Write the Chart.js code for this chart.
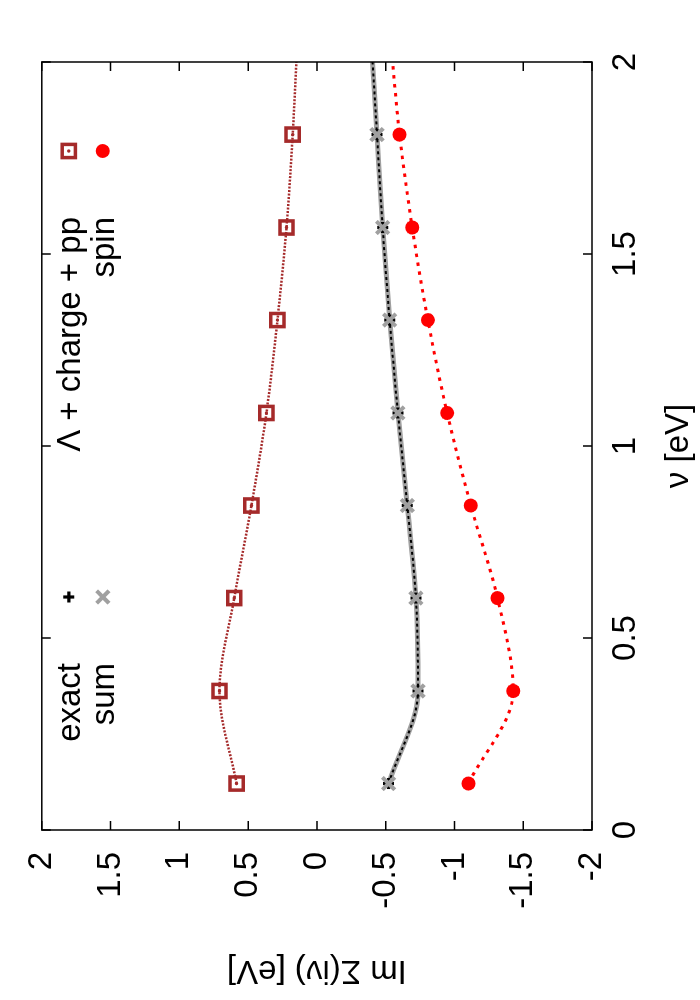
<!DOCTYPE html>
<html><head><meta charset="utf-8">
<script src="https://cdn.jsdelivr.net/npm/chart.js@4.4.0/dist/chart.umd.min.js"></script>
<style>
html,body{margin:0;padding:0;background:#fff;overflow:hidden;width:700px;height:1000px;}
#wrap{position:absolute;left:0;top:0;width:1000px;height:700px;transform-origin:0 0;transform:translateY(1000px) rotate(-90deg);}
canvas{display:block;}
</style></head><body>
<div id="wrap"><canvas id="c" width="1000" height="700"></canvas></div>
<script>
// Matsubara frequencies (eV)
const nu = [0.121, 0.362, 0.604, 0.845, 1.086, 1.328, 1.569, 1.811];
// Im Sigma(i nu) in eV
const lambdaChargePP = [0.584, 0.708, 0.601, 0.476, 0.367, 0.287, 0.221, 0.176];
const spin  = [-1.102, -1.427, -1.313, -1.119, -0.947, -0.807, -0.693, -0.601];
const sum   = [-0.521, -0.735, -0.720, -0.657, -0.589, -0.529, -0.478, -0.437];
const exact = [-0.521, -0.735, -0.720, -0.657, -0.589, -0.529, -0.478, -0.437];
// the continuous curves run on to the top of the frequency range
const curveEndNu = 2.0;
const lambdaCurveEnd = 0.149;
const spinCurveEnd = -0.55;
const sumCurveEnd = -0.405;
const exactCurveEnd = -0.405;
// axes
const nuTicks = [0, 0.5, 1, 1.5, 2];
const imTicks = [-2, -1.5, -1, -0.5, 0, 0.5, 1, 1.5, 2];
const legendLabels = ['exact', 'sum', 'Λ + charge + pp', 'spin'];
const xTitle = 'ν [eV]';
const yTitle = 'Im Σ(iν) [eV]';

const FONT = "'Liberation Sans', Arial, Helvetica, sans-serif";
const FS = 33;
const BROWN = 'rgb(165,42,42)';
const RED = 'rgb(255,0,0)';
const GRAY = 'rgb(160,160,160)';

Chart.defaults.font.family = FONT;
Chart.defaults.color = '#000';

const pts = (xs, ys) => xs.map((x, i) => ({x: x, y: ys[i]}));
const curve = (ys, end) => pts(nu.concat([curveEndNu]), ys.concat([end]));

const lineDs = (label, data, color, width, dash, order) => ({
  label: label, data: data, showLine: true, pointRadius: 0, borderColor: color,
  borderWidth: width, borderDash: dash, fill: false, cubicInterpolationMode: 'monotone',
  order: order
});

const framePlugin = {
  id: 'frame',
  afterDatasetsDraw(chart) {
    const {ctx, chartArea: a, scales} = chart;
    const x = scales.x, y = scales.y;
    const L = 9;
    ctx.save();
    ctx.strokeStyle = '#000';
    ctx.lineWidth = 1.5;
    ctx.beginPath();
    nuTicks.forEach(v => {
      const p = x.getPixelForValue(v);
      ctx.moveTo(p, a.bottom); ctx.lineTo(p, a.bottom - L);
      ctx.moveTo(p, a.top); ctx.lineTo(p, a.top + L);
    });
    imTicks.forEach(v => {
      const p = y.getPixelForValue(v);
      ctx.moveTo(a.left, p); ctx.lineTo(a.left + L, p);
      ctx.moveTo(a.right, p); ctx.lineTo(a.right - L, p);
    });
    ctx.stroke();
    ctx.strokeRect(a.left, a.top, a.right - a.left, a.bottom - a.top);
    ctx.restore();
  }
};

const legendPlugin = {
  id: 'keyLegend',
  afterDraw(chart) {
    const ctx = chart.ctx;
    const a = chart.chartArea;
    const col1Key = a.left + 233, col2Key = a.left + 679;
    const row1 = a.top + 27, row2 = a.top + 61;
    const textGap = 66;
    ctx.save();
    ctx.font = FS + 'px ' + FONT;
    ctx.fillStyle = '#000';
    ctx.textAlign = 'right';
    ctx.textBaseline = 'alphabetic';
    ctx.fillText(legendLabels[0], col1Key - textGap, row1 + 11);
    ctx.fillText(legendLabels[1], col1Key - textGap, row2 + 11);
    ctx.fillText(legendLabels[2], col2Key - textGap, row1 + 11);
    ctx.fillText(legendLabels[3], col2Key - textGap, row2 + 11);
    // exact: +
    ctx.strokeStyle = '#000'; ctx.lineWidth = 3.2;
    ctx.beginPath();
    ctx.moveTo(col1Key - 5.5, row1); ctx.lineTo(col1Key + 5.5, row1);
    ctx.moveTo(col1Key, row1 - 5.5); ctx.lineTo(col1Key, row1 + 5.5);
    ctx.stroke();
    // sum: x
    ctx.strokeStyle = GRAY; ctx.lineWidth = 4;
    const d = 6.2;
    ctx.beginPath();
    ctx.moveTo(col1Key - d, row2 - d); ctx.lineTo(col1Key + d, row2 + d);
    ctx.moveTo(col1Key - d, row2 + d); ctx.lineTo(col1Key + d, row2 - d);
    ctx.stroke();
    // Lambda: boxed dot
    ctx.strokeStyle = BROWN; ctx.lineWidth = 3.5;
    ctx.strokeRect(col2Key - 6.6, row1 - 6.6, 13.2, 13.2);
    ctx.fillStyle = BROWN;
    ctx.beginPath(); ctx.arc(col2Key, row1, 1.7, 0, Math.PI * 2); ctx.fill();
    // spin: filled circle
    ctx.fillStyle = RED;
    ctx.beginPath(); ctx.arc(col2Key, row2, 7, 0, Math.PI * 2); ctx.fill();
    ctx.restore();
  }
};

new Chart(document.getElementById('c'), {
  type: 'scatter',
  data: {
    datasets: [
      {label: 'sum', data: pts(nu, sum), showLine: false, pointStyle: 'crossRot', pointRadius: 8.8,
       borderColor: GRAY, backgroundColor: GRAY, borderWidth: 4, order: 0},
      {label: 'exact', data: pts(nu, exact), showLine: false, pointStyle: 'cross', pointRadius: 5.5,
       borderColor: '#000', backgroundColor: '#000', borderWidth: 3.2, order: 1},
      {label: 'Λ + charge + pp (dot)', data: pts(nu, lambdaChargePP), showLine: false, pointStyle: 'circle',
       pointRadius: 1.7, borderWidth: 0, backgroundColor: BROWN, order: 1.5},
      {label: 'Λ + charge + pp', data: pts(nu, lambdaChargePP), showLine: false, pointStyle: 'rect',
       pointRadius: 9.3, borderColor: BROWN, backgroundColor: 'rgba(0,0,0,0)', borderWidth: 3.5, order: 2},
      {label: 'spin', data: pts(nu, spin), showLine: false, pointStyle: 'circle', pointRadius: 7,
       borderWidth: 0, backgroundColor: RED, order: 3},
      lineDs('exact curve', curve(exact, exactCurveEnd), '#000', 2, [3, 3], 4),
      lineDs('Λ + charge + pp curve', curve(lambdaChargePP, lambdaCurveEnd), BROWN, 2.5, [2, 1.5], 5),
      lineDs('spin curve', curve(spin, spinCurveEnd), RED, 3, [3.5, 5.5], 6),
      lineDs('sum curve', curve(sum, sumCurveEnd), GRAY, 5, [], 7)
    ]
  },
  options: {
    responsive: false,
    animation: false,
    events: [],
    layout: {padding: {left: 0, top: 41, right: 62, bottom: 0}},
    plugins: {legend: {display: false}, tooltip: {enabled: false}},
    scales: {
      x: {
        type: 'linear', position: 'bottom', min: 0, max: 2,
        afterBuildTicks: s => { s.ticks = nuTicks.map(v => ({value: v})); },
        ticks: {font: {family: FONT, size: FS}, color: '#000', padding: 14, maxRotation: 0, minRotation: 0,
                autoSkip: false, callback: v => String(v)},
        grid: {display: false, drawTicks: false},
        border: {display: false},
        title: {display: true, text: xTitle, font: {family: FONT, size: FS}, color: '#000',
                padding: {top: 0, bottom: 1}},
        afterFit: s => { s.height = 108; }
      },
      y: {
        type: 'linear', position: 'left', min: -2, max: 2,
        afterBuildTicks: s => { s.ticks = imTicks.map(v => ({value: v})); },
        ticks: {font: {family: FONT, size: FS}, color: '#000', padding: 22, autoSkip: false,
                callback: v => String(v)},
        grid: {display: false, drawTicks: false},
        border: {display: false},
        title: {display: true, text: yTitle, font: {family: FONT, size: FS}, color: '#000',
                padding: {top: 10, bottom: 0}},
        afterFit: s => { s.width = 170; }
      }
    }
  },
  plugins: [framePlugin, legendPlugin]
});
</script>
</body></html>
